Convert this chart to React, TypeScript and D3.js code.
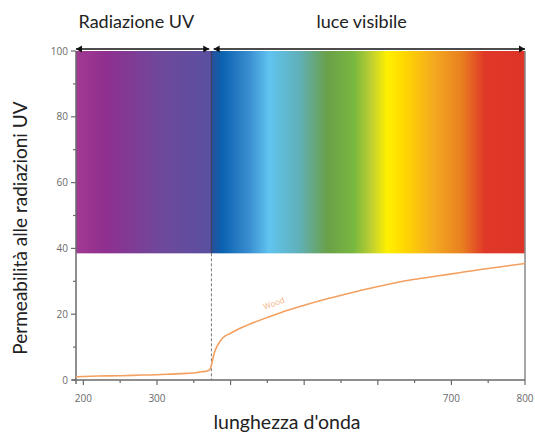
import React, { useEffect, useRef } from 'react';
import * as d3 from 'd3';

// wavelength (nm) and UV permeability (%) of the "Wood" curve
const wavelengths = [190, 220, 250, 280, 300, 320, 340, 355, 360, 365, 370, 372, 374, 376, 378, 381, 385, 390, 400, 410, 422, 440, 467, 500, 530, 560, 590, 621, 650, 680, 711, 740, 770, 800];
const woodValues = [1.0, 1.2, 1.3, 1.5, 1.6, 1.8, 2.0, 2.3, 2.5, 2.6, 2.9, 3.2, 4.5, 6.5, 8.3, 10, 11.5, 12.9, 14.2, 15.4, 16.6, 18.2, 20.4, 22.7, 24.6, 26.3, 27.9, 29.4, 30.6, 31.6, 32.6, 33.6, 34.5, 35.4];

// spectrum band colour stops (wavelength -> colour)
const uvStops = [190, 230, 300, 374];
const uvColors = ['#a23a92', '#8f2f8f', '#70479a', '#5a50a0'];
const visStops = [374.6, 389, 426, 453, 494, 532, 568, 592, 613, 636, 677, 714, 745, 800];
const visColors = ['#2a4f9a', '#0a62b0', '#3a8ed0', '#60c4f0', '#60b0b8', '#6aa048', '#78b840', '#c0d030', '#fff000', '#ffd800', '#f4a820', '#e88020', '#e03828', '#dc3428'];

const boundary = 374;
const bandBottom = 38.5;
const xMajorTicks = [200, 300, 400, 500, 600, 700, 800];
const xMinorTicks = [250, 350, 450, 550, 650, 750];
const xLabeled = [200, 300, 700, 800];
const yMajorTicks = [0, 20, 40, 60, 80, 100];
const yMinorTicks = [10, 30, 50, 70, 90];

export default function App() {
  const svgRef = useRef<SVGSVGElement | null>(null);

  useEffect(() => {
    if (!svgRef.current) return;
    const W = 535, H = 435;
    const svg = d3.select(svgRef.current);
    svg.selectAll('*').remove();
    svg.attr('width', W).attr('height', H);

    const x = d3.scaleLinear().domain([190, 800]).range([76, 525]);
    const y = d3.scaleLinear().domain([0, 100]).range([380, 51]);
    const axisCol = '#6a6a6a';
    const tickFont = '"Open Sans", sans-serif';
    const titleFont = 'Lato, "Open Sans", sans-serif';

    const defs = svg.append('defs');
    const mkGrad = (id: string, stops: number[], colors: string[]) => {
      const lo = stops[0], hi = stops[stops.length - 1];
      const g = defs.append('linearGradient').attr('id', id)
        .attr('x1', '0').attr('x2', '1').attr('y1', '0').attr('y2', '0');
      stops.forEach((s, i) => {
        g.append('stop').attr('offset', `${((s - lo) / (hi - lo)) * 100}%`).attr('stop-color', colors[i]);
      });
    };
    mkGrad('uv-grad', uvStops, uvColors);
    mkGrad('vis-grad', visStops, visColors);

    // spectrum bands
    svg.append('rect')
      .attr('x', x(190)).attr('y', y(100))
      .attr('width', x(boundary) - x(190)).attr('height', y(bandBottom) - y(100))
      .attr('fill', 'url(#uv-grad)');
    svg.append('rect')
      .attr('x', x(boundary)).attr('y', y(100))
      .attr('width', x(800) - x(boundary)).attr('height', y(bandBottom) - y(100))
      .attr('fill', 'url(#vis-grad)');

    // boundary line
    svg.append('line')
      .attr('x1', x(boundary)).attr('x2', x(boundary))
      .attr('y1', y(100)).attr('y2', y(bandBottom))
      .attr('stroke', '#2a2a40').attr('stroke-width', 1.2).attr('opacity', 0.7);
    svg.append('line')
      .attr('x1', x(boundary)).attr('x2', x(boundary))
      .attr('y1', y(bandBottom)).attr('y2', y(0))
      .attr('stroke', '#555').attr('stroke-width', 0.8).attr('stroke-dasharray', '3,2');

    // frame: right border
    svg.append('line')
      .attr('x1', x(800)).attr('x2', x(800)).attr('y1', y(100)).attr('y2', y(0))
      .attr('stroke', '#888').attr('stroke-width', 1.5);

    // axes
    const yAxis = svg.append('g').attr('transform', `translate(${x(190)},0)`);
    yAxis.append('line').attr('y1', y(100)).attr('y2', y(0) + 4).attr('stroke', axisCol).attr('stroke-width', 1.5);
    yMajorTicks.forEach(t => {
      yAxis.append('line').attr('x1', -5).attr('x2', 0).attr('y1', y(t)).attr('y2', y(t)).attr('stroke', axisCol).attr('stroke-width', 1.2);
      yAxis.append('text').attr('x', -8).attr('y', y(t)).attr('dy', '0.35em')
        .attr('text-anchor', 'end').attr('font-size', 10).attr('font-family', tickFont).attr('fill', '#6a6a6a').text(t);
    });
    yMinorTicks.forEach(t => {
      yAxis.append('line').attr('x1', -3).attr('x2', 0).attr('y1', y(t)).attr('y2', y(t)).attr('stroke', axisCol).attr('stroke-width', 1.2);
    });

    const xAxis = svg.append('g').attr('transform', `translate(0,${y(0)})`);
    xAxis.append('line').attr('x1', x(190) - 4).attr('x2', x(800)).attr('stroke', axisCol).attr('stroke-width', 1.5);
    xMajorTicks.forEach(t => {
      xAxis.append('line').attr('x1', x(t)).attr('x2', x(t)).attr('y1', 0).attr('y2', 5).attr('stroke', axisCol).attr('stroke-width', 1.2);
    });
    xMinorTicks.forEach(t => {
      xAxis.append('line').attr('x1', x(t)).attr('x2', x(t)).attr('y1', 0).attr('y2', 3).attr('stroke', axisCol).attr('stroke-width', 1.2);
    });
    xLabeled.forEach(t => {
      xAxis.append('text').attr('x', x(t)).attr('y', 22)
        .attr('text-anchor', 'middle').attr('font-size', 10).attr('font-family', tickFont).attr('fill', '#6a6a6a').text(t);
    });

    // Wood curve
    const pts = wavelengths.map((w, i) => [w, woodValues[i]] as [number, number]);
    const line = d3.line<[number, number]>()
      .x(d => x(d[0])).y(d => y(d[1]))
      .curve(d3.curveMonotoneX);
    svg.append('path').datum(pts).attr('d', line)
      .attr('fill', 'none').attr('stroke', '#f4a060').attr('stroke-width', 1.6);

    svg.append('text')
      .attr('transform', `translate(${x(460)},${y(22.5)}) rotate(-20)`)
      .attr('text-anchor', 'middle').attr('font-size', 8).attr('font-family', tickFont)
      .attr('fill', '#f5b07a').text('Wood');

    // arrows along top
    const arrY = y(100) - 2;
    const arrow = (a: number, b: number) => {
      const x1 = x(a), x2 = x(b);
      svg.append('line').attr('x1', x1).attr('x2', x2).attr('y1', arrY).attr('y2', arrY)
        .attr('stroke', '#111').attr('stroke-width', 1.6);
      svg.append('path').attr('d', `M${x1},${arrY}l6,-3.5v7z`).attr('fill', '#111');
      svg.append('path').attr('d', `M${x2},${arrY}l-6,-3.5v7z`).attr('fill', '#111');
    };
    arrow(190, 371);
    arrow(377, 800);

    // band titles
    svg.append('text').attr('x', x(272)).attr('y', 28).attr('text-anchor', 'middle')
      .attr('font-size', 18).attr('font-family', titleFont).attr('fill', '#222').text('Radiazione UV');
    svg.append('text').attr('x', x(578)).attr('y', 28).attr('text-anchor', 'middle')
      .attr('font-size', 18).attr('font-family', titleFont).attr('fill', '#222').text('luce visibile');

    // axis titles
    svg.append('text').attr('transform', `translate(27,228) rotate(-90)`).attr('text-anchor', 'middle')
      .attr('font-size', 19).attr('font-family', titleFont).attr('fill', '#222').text('Permeabilità alle radiazioni UV');
    svg.append('text').attr('x', 287).attr('y', 429).attr('text-anchor', 'middle')
      .attr('font-size', 19.5).attr('font-family', titleFont).attr('fill', '#222').text("lunghezza d'onda");
  }, []);

  return (
    <div style={{ position: 'fixed', left: 0, top: 0, background: '#fff' }}>
      <svg ref={svgRef} style={{ display: 'block' }} />
    </div>
  );
}
